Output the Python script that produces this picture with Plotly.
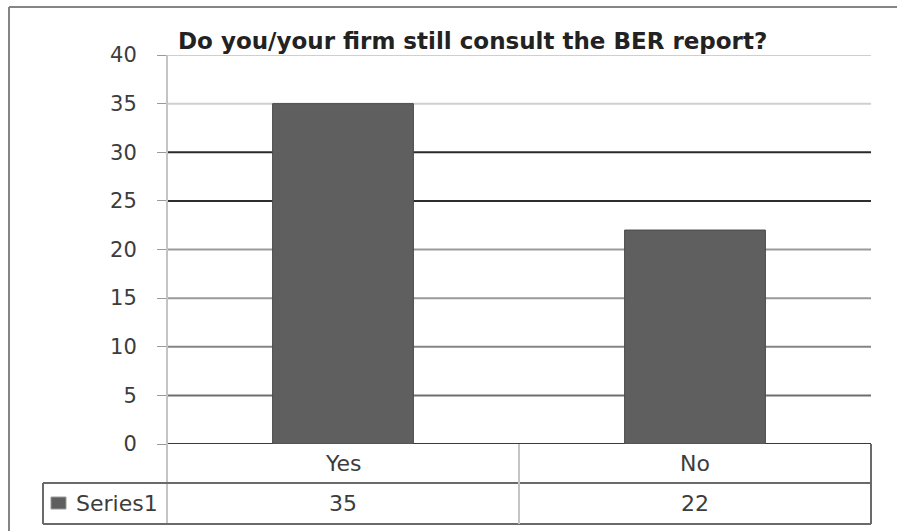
import plotly.graph_objects as go

# Survey data
categories = ["Yes", "No"]
values = [35, 22]
series_name = "Series1"
title_text = "Do you/your firm still consult the BER report?"
y_ticks = [0, 5, 10, 15, 20, 25, 30, 35, 40]

W, H = 897, 531


def fx(px):
    return px / W


def fy(py):
    return 1 - py / H


# plot area in pixels
PL, PR, PT, PB = 167, 871, 55, 444
ROW1_B, ROW2_B, LEG_L = 483, 524, 43

BAR_FILL = "#5f5f5f"
TEXT = "#3c3c3c"
FONT = "DejaVu Sans"

fig = go.Figure()
fig.add_trace(go.Bar(
    x=categories, y=values, name=series_name, width=0.4,
    marker=dict(color=BAR_FILL, line=dict(color="#4a4a4a", width=1)),
    showlegend=False,
))

shapes = []

# horizontal gridlines (tones vary level to level)
grid_colors = ["#3a3a3a", "#6e6e6e", "#858585", "#9a9a9a", "#9a9a9a",
               "#2e2e2e", "#2a2a2a", "#cfcfcf", "#cfcfcf"]
for v, c in zip(y_ticks, grid_colors):
    shapes.append(dict(type="line", xref="x domain", yref="y", x0=0, x1=1,
                       y0=v, y1=v, line=dict(color=c, width=2), layer="below"))

# value axis line running down through the data table
shapes.append(dict(type="line", xref="paper", yref="paper",
                   x0=fx(PL), x1=fx(PL), y0=fy(PT), y1=fy(ROW2_B),
                   line=dict(color="#c4c4c4", width=2), layer="below"))

# data table grid
tbl = "#6a6a6a"
shapes += [
    dict(type="line", xref="paper", yref="paper", x0=fx(LEG_L), x1=fx(PR),
         y0=fy(ROW1_B), y1=fy(ROW1_B), line=dict(color=tbl, width=2)),
    dict(type="line", xref="paper", yref="paper", x0=fx(LEG_L), x1=fx(PR),
         y0=fy(ROW2_B), y1=fy(ROW2_B), line=dict(color=tbl, width=2)),
    dict(type="line", xref="paper", yref="paper", x0=fx(LEG_L), x1=fx(LEG_L),
         y0=fy(ROW1_B), y1=fy(ROW2_B), line=dict(color=tbl, width=2)),
    dict(type="line", xref="paper", yref="paper", x0=fx(PR), x1=fx(PR),
         y0=fy(PB), y1=fy(ROW2_B), line=dict(color=tbl, width=2)),
    dict(type="line", xref="x", yref="paper", x0=0.5, x1=0.5,
         y0=fy(PB), y1=fy(ROW2_B), line=dict(color="#c4c4c4", width=2)),
]

# legend key inside the table
shapes.append(dict(type="rect", xref="paper", yref="paper",
                   x0=fx(51), x1=fx(66), y0=fy(497), y1=fy(509),
                   fillcolor=BAR_FILL, line=dict(color="#9a9a9a", width=1)))

# outer chart frame
shapes += [
    dict(type="line", xref="paper", yref="paper", x0=fx(9), x1=1,
         y0=fy(7), y1=fy(7), line=dict(color="#858585", width=2)),
    dict(type="line", xref="paper", yref="paper", x0=fx(9), x1=fx(9),
         y0=fy(7), y1=0, line=dict(color="#858585", width=2)),
]

annotations = []
for c, v in zip(categories, values):
    annotations.append(dict(x=c, xref="x", y=fy((PB + ROW1_B) / 2), yref="paper",
                            text=c, showarrow=False, xanchor="center", yanchor="middle",
                            font=dict(family=FONT, size=22, color=TEXT)))
    annotations.append(dict(x=c, xref="x", y=fy((ROW1_B + ROW2_B) / 2), yref="paper",
                            text=str(v), showarrow=False, xanchor="center", yanchor="middle",
                            font=dict(family=FONT, size=22, color=TEXT)))
annotations.append(dict(x=fx(74), xref="paper", y=fy((ROW1_B + ROW2_B) / 2), yref="paper",
                        text=series_name, showarrow=False, xanchor="left", yanchor="middle",
                        font=dict(family=FONT, size=22, color=TEXT)))

fig.update_layout(
    width=W, height=H, autosize=False,
    margin=dict(l=0, r=0, t=0, b=0, pad=0),
    paper_bgcolor="white", plot_bgcolor="white",
    title=dict(text=f"<b>{title_text}</b>", x=fx(178), xanchor="left",
               xref="paper", y=fy(41), yanchor="middle", yref="paper",
               automargin=False,
               font=dict(family=FONT, size=23, color="#222222")),
    xaxis=dict(domain=[fx(PL), fx(PR)], range=[-0.5, 1.5], showticklabels=False,
               showgrid=False, zeroline=False, showline=False, ticks="",
               automargin=False),
    yaxis=dict(domain=[fy(PB), fy(PT)], range=[0, 40], tickvals=y_ticks,
               showgrid=False, zeroline=False, showline=False, automargin=False,
               ticks="outside", ticklen=9, tickcolor="#9a9a9a", tickwidth=1,
               ticklabelstandoff=16,
               tickfont=dict(family=FONT, size=21, color=TEXT)),
    shapes=shapes, annotations=annotations,
    bargap=0.6,
)

fig.write_html("out.html")
